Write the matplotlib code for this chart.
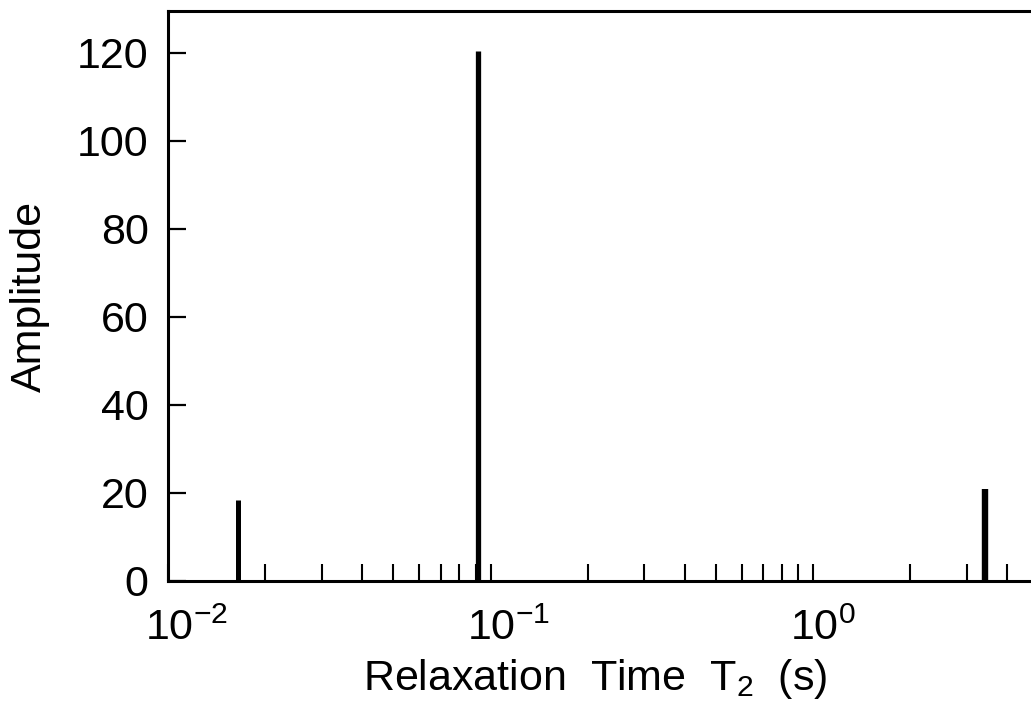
import numpy as n
import matplotlib
matplotlib.use('Agg')
import matplotlib.pyplot as plt
from matplotlib.ticker import LogLocator, NullFormatter, FixedLocator

plt.rcParams['font.family'] = ['Liberation Sans', 'DejaVu Sans']
plt.rcParams['mathtext.fontset'] = 'custom'
plt.rcParams['mathtext.rm'] = 'Liberation Sans'
plt.rcParams['mathtext.it'] = 'Liberation Sans:italic'
plt.rcParams['mathtext.bf'] = 'Liberation Sans:bold'
plt.rcParams['mathtext.default'] = 'regular'

# T2 components of the multi-exponential fit
t2_times = [0.0165, 0.0915, 3.42]
t2_amps = [18.4, 120.5, 21.0]

x_range = (0.01, 4.74)
y_range = (0, 129.5)
y_ticks = [0, 20, 40, 60, 80, 100, 120]
x_major = [1e-2, 1e-1, 1e0]
x_major_labels = ['$10^{-2}$', '$10^{-1}$', '$10^{0}$']

fs = 31
bar_widths = [3.6, 3.8, 4.6]

fig = plt.figure(figsize=(10.31, 7.12), dpi=100)
ax = fig.add_axes([0.163, 0.184, 0.837, 0.8006])

ax.vlines(t2_times, 0, t2_amps, colors='black', linewidths=bar_widths,
          capstyle='butt', zorder=3)

ax.set_xscale('log')
ax.set_xlim(*x_range)
ax.set_ylim(*y_range)

ax.xaxis.set_major_locator(FixedLocator(x_major))
ax.xaxis.set_minor_locator(LogLocator(base=10, subs=n.arange(2, 10)))
ax.xaxis.set_major_formatter(NullFormatter())
ax.xaxis.set_minor_formatter(NullFormatter())
ax.set_yticks(y_ticks)

ax.tick_params(axis='x', which='both', direction='in', length=12, width=1.5,
               top=False, bottom=True)
ax.tick_params(axis='y', which='major', direction='in', length=13, width=1.6,
               right=False, labelsize=fs, pad=14)

for s in ['left', 'bottom', 'top']:
    ax.spines[s].set_linewidth(2.2)
ax.spines['right'].set_visible(False)

# decade labels: keep the "10" centred on the tick, exponent hangs to the right
for t, lab in zip(x_major, x_major_labels):
    ax.annotate(lab, xy=(t, 0), xycoords=('data', 'axes fraction'),
                xytext=(-16.8, -42.5), textcoords='offset points',
                ha='left', va='baseline', fontsize=fs, annotation_clip=False)

ax.set_ylabel('Amplitude', fontsize=fs)
ax.yaxis.set_label_coords(-0.1367, 0.5)
ax.set_xlabel('Relaxation  Time  T$_2$  (s)', fontsize=fs)
ax.xaxis.set_label_coords(0.4948, -0.133)

fig.savefig('out.png', dpi=100)
